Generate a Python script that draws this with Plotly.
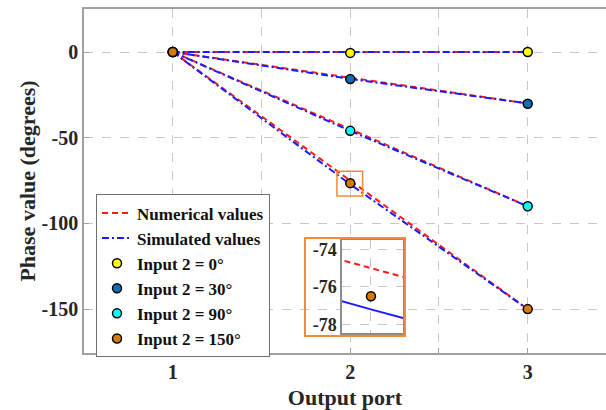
import plotly.graph_objects as go

# Output ports
ports = [1, 2, 3]

# Phase curves (degrees) for each Input 2 setting
labels = ["Input 2 = 0°", "Input 2 = 30°", "Input 2 = 90°", "Input 2 = 150°"]
numerical = [
    [0, 0, 0],
    [0, -15, -30],
    [0, -45, -90],
    [0, -75, -150],
]
simulated = [
    [0, 0, 0],
    [0, -15.7, -30],
    [0, -46, -90],
    [0, -77.2, -150],
]
measured = [
    [0, -0.5, 0],
    [0, -15.8, -30.2],
    [0, -46, -90],
    [0, -76.5, -150],
]
marker_colors = ["#ffff00", "#0a6fb5", "#00ffff", "#d87a00"]

x_ticks = [1, 1.5, 2, 2.5, 3]
x_ticktext = ["1", "", "2", "", "3"]
y_ticks = [0, -50, -100, -150]
y_ticktext = ["0", "-50", "-100", "-150"]
inset_y_ticks = [-74, -76, -78]
inset_y_ticktext = ["-74", "-76", "-78"]

FONT = "Liberation Serif"
TXT = "#262626"
RED = "#ff1a1a"
BLUE = "#1a1aff"
ORANGE = "#f28a3c"
GRID = "#c8c8c8"
FRAME = "#a0a0a0"

fig = go.Figure()

# Numerical curves (red dashed)
for i, ys in enumerate(numerical):
    fig.add_trace(go.Scatter(
        x=ports, y=ys, mode="lines", name="Numerical values",
        legendgroup="num", showlegend=(i == 0),
        line=dict(color=RED, width=2, dash="6px,4px"),
    ))

# Simulated curves (blue dash-dot)
for i, ys in enumerate(simulated):
    fig.add_trace(go.Scatter(
        x=ports, y=ys, mode="lines", name="Simulated values",
        legendgroup="sim", showlegend=(i == 0),
        line=dict(color=BLUE, width=2, dash="7px,3px,2px,3px"),
    ))

# Measured points
for lab, ys, col in zip(labels, measured, marker_colors):
    fig.add_trace(go.Scatter(
        x=ports, y=ys, mode="markers", name=lab,
        marker=dict(size=9, color=col, line=dict(color="#000000", width=1.5)),
    ))

# Zoomed view around port 2 for the 150° case
fig.add_trace(go.Scatter(
    x=ports, y=numerical[3], mode="lines", showlegend=False,
    xaxis="x2", yaxis="y2",
    line=dict(color=RED, width=2, dash="6px,4px"),
))
fig.add_trace(go.Scatter(
    x=ports, y=simulated[3], mode="lines", showlegend=False,
    xaxis="x2", yaxis="y2",
    line=dict(color=BLUE, width=2),
))
fig.add_trace(go.Scatter(
    x=ports, y=measured[3], mode="markers", showlegend=False,
    xaxis="x2", yaxis="y2",
    marker=dict(size=9, color=marker_colors[3], line=dict(color="#000000", width=1.5)),
))

tick_font = dict(size=20, family=FONT, weight="bold", color=TXT)

fig.update_layout(
    width=606, height=410,
    margin=dict(l=84, r=0, t=9, b=57),
    paper_bgcolor="white", plot_bgcolor="white",
    font=dict(family=FONT, color=TXT, weight="bold"),
    xaxis=dict(
        range=[0.5, 3.441], tickvals=x_ticks, ticktext=x_ticktext,
        tickfont=tick_font, ticklabelstandoff=0,
        showgrid=True, gridcolor=GRID, griddash="dash", gridwidth=1,
        showline=True, linecolor=FRAME, linewidth=1.5, mirror=True,
        ticks="inside", ticklen=5, tickcolor=FRAME, zeroline=False,
        title=dict(text="Output port", font=dict(size=22, family=FONT, weight="bold"), standoff=12),
    ),
    yaxis=dict(
        range=[-175.6, 25.1], tickvals=y_ticks, ticktext=y_ticktext,
        tickfont=tick_font,
        showgrid=True, gridcolor=GRID, griddash="dash", gridwidth=1,
        showline=True, linecolor=FRAME, linewidth=1.5, mirror=False,
        ticks="inside", ticklen=5, tickcolor=FRAME, zeroline=False,
        title=dict(text="Phase value (degrees)", font=dict(size=22, family=FONT, weight="bold"), standoff=0),
    ),
    xaxis2=dict(
        domain=[0.4943, 0.6111], anchor="y2",
        range=[1.99435, 2.00625], tickvals=[2], showticklabels=False,
        showgrid=True, gridcolor=GRID, griddash="dash", gridwidth=1,
        showline=True, linecolor="#8c8c8c", linewidth=1.5, mirror=True,
        ticks="", zeroline=False,
    ),
    yaxis2=dict(
        domain=[0.0581, 0.3285], anchor="x2",
        range=[-78.46, -73.5], tickvals=inset_y_ticks, ticktext=inset_y_ticktext,
        tickfont=dict(size=18, family=FONT, weight="bold", color=TXT),
        showgrid=True, gridcolor=GRID, griddash="dash", gridwidth=1,
        showline=True, linecolor="#8c8c8c", linewidth=1.5, mirror=True,
        ticks="", zeroline=False,
    ),
    legend=dict(
        x=0.023, y=0.461, xanchor="left", yanchor="top",
        bgcolor="white", bordercolor="#707070", borderwidth=1,
        font=dict(size=17, family=FONT, weight="bold", color="#111111"),
        itemwidth=30, tracegroupgap=0,
    ),
    shapes=[
        # white backing behind the inset's tick labels (covers main gridlines)
        dict(type="rect", xref="paper", yref="paper",
             x0=0.4234, x1=0.6149, y0=0.0494, y1=0.3343,
             fillcolor="white", line=dict(width=0), layer="between"),
        # inset frame
        dict(type="rect", xref="paper", yref="paper",
             x0=0.4234, x1=0.6149, y0=0.0494, y1=0.3343,
             line=dict(color=ORANGE, width=2), layer="above"),
        # highlight around port 2, 150° point
        dict(type="rect", xref="x", yref="y",
             x0=1.925, x1=2.07, y0=-84, y1=-69.5,
             line=dict(color=ORANGE, width=1.5), layer="above"),
    ],
)

fig.write_html("out.html")
